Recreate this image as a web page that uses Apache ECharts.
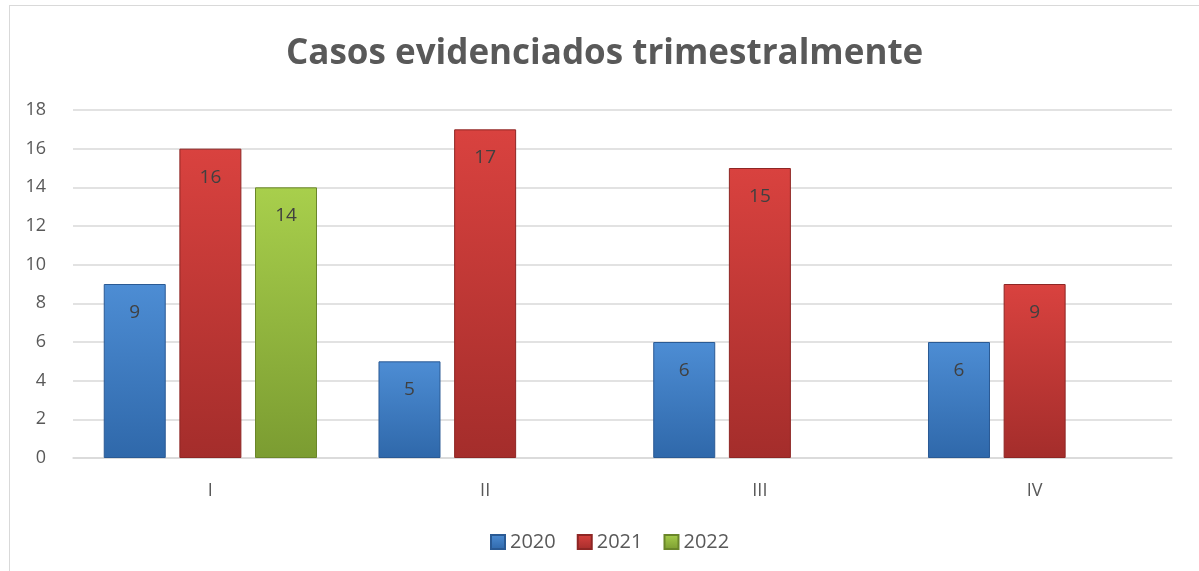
<!DOCTYPE html>
<html>
<head>
<meta charset="utf-8">
<script src="https://cdn.jsdelivr.net/npm/echarts@6/dist/echarts.min.js"></script>
<style>
  html, body { margin: 0; padding: 0; background: #fff; }
  #frame { position: absolute; left: 9px; top: 5px; width: 1200px; height: 580px; border: 1px solid #d9d9d9; box-sizing: border-box; }
  #chart { position: absolute; left: 0; top: 0; width: 1199px; height: 571px; }
</style>
</head>
<body>
<div id="frame"></div>
<div id="chart"></div>
<script>
document.addEventListener('DOMContentLoaded', function() {
    // datos
    const trimestres = ['I', 'II', 'III', 'IV'];
    const anios = ['2020', '2021', '2022'];
    const casos2020 = [9, 5, 6, 6];
    const casos2021 = [16, 17, 15, 9];
    const casos2022 = [14, null, null, null];

    const fuente = 'Open Sans, Liberation Sans, sans-serif';

    function degradado(claro, oscuro) {
        return new echarts.graphic.LinearGradient(0, 0, 0, 1, [
            { offset: 0, color: claro },
            { offset: 1, color: oscuro }
        ]);
    }

    const colores = [
        { fill: degradado('#4d8dd4', '#2f68aa'), border: '#2a5a94' },
        { fill: degradado('#d9423f', '#a42d2b'), border: '#8e2624' },
        { fill: degradado('#a8cf4c', '#7b9c31'), border: '#6a862a' }
    ];

    function serie(nombre, datos, c) {
        return {
            name: nombre,
            type: 'bar',
            data: datos,
            barWidth: 62,
            barGap: '22%',
            itemStyle: { color: c.fill, borderColor: c.border, borderWidth: 1 },
            label: {
                show: true,
                position: 'insideTop',
                distance: 19,
                color: '#404040',
                fontSize: 19,
                fontFamily: fuente
            }
        };
    }

    const chart = echarts.init(document.getElementById('chart'));
    chart.setOption({
        animation: false,
        title: {
            text: 'Casos evidenciados trimestralmente',
            left: 281,
            top: 32,
            textStyle: { color: '#595959', fontSize: 35, fontWeight: 'bold', fontFamily: fuente }
        },
        legend: {
            data: anios,
            bottom: 14,
            left: 485,
            itemWidth: 14,
            itemHeight: 14,
            itemGap: 21,
            icon: 'rect',
            textStyle: { color: '#595959', fontSize: 20, fontFamily: fuente }
        },
        grid: { left: 73, right: 27, top: 110, bottom: 113 },
        xAxis: {
            type: 'category',
            data: trimestres,
            axisLine: { lineStyle: { color: '#d9d9d9', width: 1.5 } },
            axisTick: { show: false },
            axisLabel: { color: '#595959', fontSize: 18, margin: 24, fontFamily: fuente }
        },
        yAxis: {
            type: 'value',
            min: 0,
            max: 18,
            interval: 2,
            axisLabel: { color: '#595959', fontSize: 18, margin: 27, fontFamily: fuente },
            splitLine: { lineStyle: { color: '#d9d9d9', width: 1.5 } }
        },
        series: [
            serie('2020', casos2020, colores[0]),
            serie('2021', casos2021, colores[1]),
            serie('2022', casos2022, colores[2])
        ]
    });
});
</script>
</body>
</html>
